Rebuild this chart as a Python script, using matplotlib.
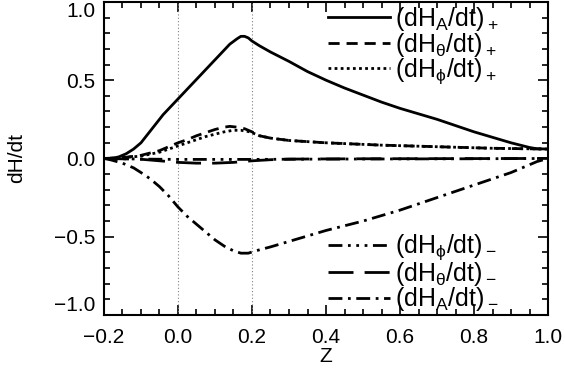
import matplotlib
matplotlib.use("Agg")
import matplotlib.pyplot as plt
import numpy as np
from matplotlib.ticker import MultipleLocator

plt.rcParams['font.family'] = ['Liberation Sans', 'DejaVu Sans']
plt.rcParams['mathtext.default'] = 'regular'

# (dH_A/dt)+
z_ap = [-0.2, -0.18, -0.16, -0.14, -0.12, -0.10, -0.08, -0.06, -0.04, -0.02, 0.0, 0.02, 0.04, 0.06, 0.08,
        0.10, 0.12, 0.14, 0.16, 0.17, 0.18, 0.19, 0.2, 0.22, 0.25, 0.3, 0.35, 0.4, 0.45, 0.5, 0.55, 0.6,
        0.65, 0.7, 0.75, 0.8, 0.85, 0.9, 0.95, 0.97, 1.0]
v_ap = [0.0, 0.0, 0.01, 0.03, 0.06, 0.10, 0.16, 0.22, 0.28, 0.33, 0.38, 0.43, 0.48, 0.53, 0.58,
        0.63, 0.68, 0.73, 0.765, 0.78, 0.78, 0.77, 0.75, 0.72, 0.68, 0.62, 0.555, 0.50, 0.45, 0.405, 0.36, 0.32,
        0.285, 0.25, 0.21, 0.17, 0.135, 0.10, 0.07, 0.062, 0.06]
# (dH_theta/dt)+
z_tp = [-0.2, -0.15, -0.1, -0.05, 0.0, 0.025, 0.05, 0.075, 0.1, 0.125, 0.14, 0.16, 0.18, 0.2, 0.22, 0.25,
        0.3, 0.4, 0.55, 0.7, 0.85, 1.0]
v_tp = [0.0, 0.005, 0.02, 0.05, 0.10, 0.12, 0.145, 0.165, 0.185, 0.2, 0.205, 0.2, 0.19, 0.17, 0.145, 0.13,
        0.115, 0.10, 0.085, 0.075, 0.065, 0.06]
# (dH_phi/dt)+
z_pp = [-0.2, -0.15, -0.1, -0.05, 0.0, 0.025, 0.05, 0.075, 0.1, 0.125, 0.15, 0.17, 0.19, 0.2, 0.22, 0.25,
        0.3, 0.4, 0.55, 0.7, 0.85, 1.0]
v_pp = [0.0, 0.005, 0.015, 0.04, 0.08, 0.10, 0.12, 0.14, 0.155, 0.17, 0.18, 0.18, 0.172, 0.165, 0.145, 0.13,
        0.115, 0.10, 0.085, 0.075, 0.065, 0.06]
# (dH_phi/dt)-
z_pm = [-0.2, -0.1, 0.0, 0.2, 0.4, 0.6, 0.8, 1.0]
v_pm = [0.0, -0.004, -0.006, -0.006, -0.004, -0.003, -0.002, 0.0]
# (dH_theta/dt)-
z_tm = [-0.2, -0.1, -0.05, 0.0, 0.05, 0.1, 0.15, 0.2, 0.25, 0.3, 0.5, 1.0]
v_tm = [0.0, -0.005, -0.015, -0.025, -0.03, -0.03, -0.025, -0.015, -0.008, -0.004, -0.002, 0.0]
# (dH_A/dt)-
z_am = [-0.2, -0.18, -0.15, -0.12, -0.1, -0.075, -0.05, -0.025, 0.0, 0.025, 0.05, 0.075, 0.1, 0.125,
        0.15, 0.17, 0.19, 0.21, 0.25, 0.3, 0.4, 0.5, 0.6, 0.7, 0.8, 0.9, 0.97, 1.0]
v_am = [0.0, -0.01, -0.03, -0.06, -0.09, -0.13, -0.18, -0.24, -0.31, -0.37, -0.42, -0.47, -0.52, -0.56,
        -0.59, -0.605, -0.605, -0.59, -0.565, -0.53, -0.46, -0.40, -0.33, -0.25, -0.17, -0.09, -0.02, 0.0]

labels_plus = [r'$(dH_A/dt)_+$', r'$(dH_\theta/dt)_+$', r'$(dH_\phi/dt)_+$']
labels_minus = [r'$(dH_\phi/dt)_-$', r'$(dH_\theta/dt)_-$', r'$(dH_A/dt)_-$']

fig = plt.figure(figsize=(5.65, 3.8), dpi=100)
ax = fig.add_axes([0.184, 0.171, 0.786, 0.824])

ax.axvline(0.0, color='gray', lw=0.8, ls=(0, (1, 2)))
ax.axvline(0.2, color='gray', lw=0.8, ls=(0, (1, 2)))

lw = 2.0
h1, = ax.plot(z_ap, v_ap, color='k', lw=lw, ls='-')
h2, = ax.plot(z_tp, v_tp, color='k', lw=lw, ls=(0, (4, 2.5)))
h3, = ax.plot(z_pp, v_pp, color='k', lw=lw, ls=(0, (1, 1.2)))
h4, = ax.plot(z_pm, v_pm, color='k', lw=lw, ls=(0, (5, 2, 1, 2, 1, 2, 1, 2)))
h5, = ax.plot(z_tm, v_tm, color='k', lw=lw, ls=(0, (9, 4)))
h6, = ax.plot(z_am, v_am, color='k', lw=lw, ls=(0, (5, 2, 1, 2)))

legkw = dict(frameon=False, fontsize=18, handlelength=2.5, handletextpad=0.2,
             labelspacing=-0.1, borderaxespad=0.0, borderpad=0.0)
leg1 = ax.legend([h1, h2, h3], labels_plus, loc='upper right',
                 bbox_to_anchor=(0.89, 0.99), **legkw)
ax.add_artist(leg1)
ax.legend([h4, h5, h6], labels_minus, loc='lower right',
          bbox_to_anchor=(0.89, 0.005), **legkw)

ax.set_xlim(-0.2, 1.0)
ax.set_ylim(-1.0, 1.0)
ax.xaxis.set_major_locator(MultipleLocator(0.2))
ax.xaxis.set_minor_locator(MultipleLocator(0.05))
ax.set_yticks([-1.0, -0.5, 0.0, 0.5, 1.0])
ax.yaxis.set_minor_locator(MultipleLocator(0.1))
ax.tick_params(which='both', direction='in', top=True, right=True, width=1.2, labelsize=15)
ax.tick_params(which='major', length=7)
ax.tick_params(axis='y', which='major', pad=6)
ax.tick_params(axis='x', which='major', pad=9)
ax.tick_params(which='minor', length=4)
for s in ax.spines.values():
    s.set_linewidth(1.5)

ticks = ax.yaxis.get_major_ticks()
ticks[-1].label1.set_va('top')
ticks[0].label1.set_va('bottom')

ax.set_xlabel('Z', fontsize=15, labelpad=0)
ax.set_ylabel('dH/dt', fontsize=15, labelpad=20)

fig.savefig('out.png', dpi=100)
